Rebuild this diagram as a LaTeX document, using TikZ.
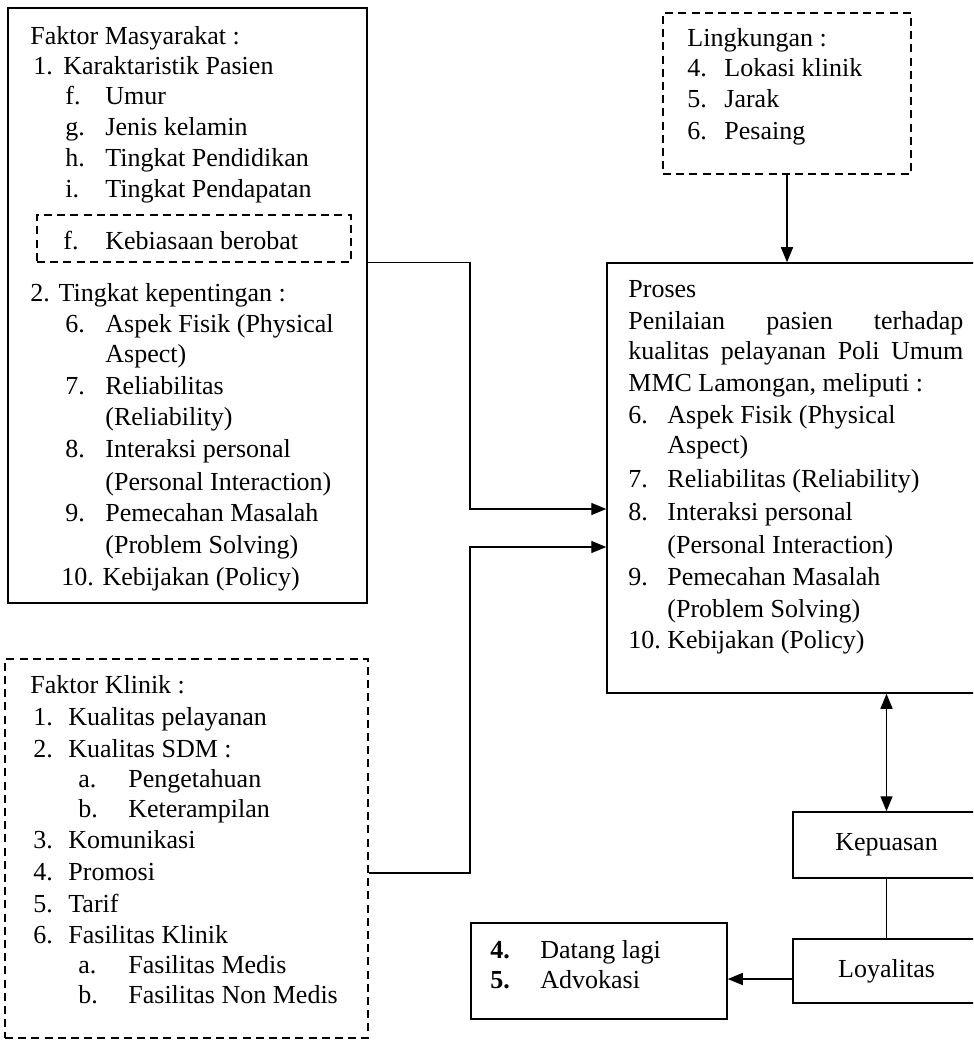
\documentclass[tikz,border=0pt]{standalone}
\usepackage{fontspec}
\setmainfont{Liberation Serif}
\usetikzlibrary{fit,arrows.meta}
\newcommand\lbl[2]{\makebox[#1pt][l]{#2}}
\begin{document}
\begin{tikzpicture}[x=0.5pt,y=-0.5pt,
  solidbox/.style={draw, line width=0.75pt, inner sep=0pt, rectangle},
  dashbox/.style={draw, line width=0.75pt, inner sep=0pt, rectangle, dash pattern=on 4pt off 2.6pt},
  t/.style={anchor=base west, inner sep=0pt, font=\fontsize{13}{15.5}\selectfont},
  ct/.style={inner sep=0pt, font=\fontsize{13}{15.5}\selectfont},
  conn/.style={line width=0.7pt},
  arr/.style={line width=0.7pt, -{Triangle[length=7.5pt,width=6pt]}},
  darr/.style={line width=0.7pt, {Triangle[length=7.5pt,width=6pt]}-{Triangle[length=7.5pt,width=6pt]}}]
\useasboundingbox (0,0) rectangle (973,1042);
\clip (0,0) rectangle (973,1042);

% boxes
\node[solidbox, fit={(8,8)(367,603)}] (mas) {};
\node[dashbox, fit={(37,215)(351,262)}] (keb) {};
\node[dashbox, fit={(5,659)(368,1038)}] (kli) {};
\node[dashbox, fit={(663,13)(911,174)}] (lin) {};
\node[solidbox, fit={(607,263)(1010,693)}] (pro) {};
\node[solidbox, fit={(793,812)(980,878)}] (kep) {};
\node[solidbox, fit={(793,939)(980,1003)}] (loy) {};
\node[solidbox, fit={(471,923)(727,1019)}] (dat) {};

% Faktor Masyarakat
\node[t] (m1) at (30,45) {Faktor Masyarakat :};
\node[t] (m2) at (33,75) {\lbl{15}{1.}Karaktaristik Pasien};
\node[t] (m3) at (65,105) {\lbl{20}{f.}Umur};
\node[t] (m4) at (65,136) {\lbl{20}{g.}Jenis kelamin};
\node[t] (m5) at (65,167) {\lbl{20}{h.}Tingkat Pendidikan};
\node[t] (m6) at (65,198) {\lbl{20}{i.}Tingkat Pendapatan};
\node[t] (m7) at (63,250) {\lbl{21}{f.}Kebiasaan berobat};
\node[t] (m8) at (30,302) {2. Tingkat kepentingan :};
\node[t] (m9) at (65,333) {\lbl{20}{6.}Aspek Fisik (Physical};
\node[t] (m10) at (105,363) {Aspect)};
\node[t] (m11) at (65,394) {\lbl{20}{7.}Reliabilitas};
\node[t] (m12) at (105,425) {(Reliability)};
\node[t] (m13) at (65,457) {\lbl{20}{8.}Interaksi personal};
\node[t] (m14) at (105,490) {(Personal Interaction)};
\node[t] (m15) at (65,521) {\lbl{20}{9.}Pemecahan Masalah};
\node[t] (m16) at (105,553) {(Problem Solving)};
\node[t] (m17) at (61,585) {10. Kebijakan (Policy)};

% Lingkungan
\node[t] (l1) at (687,47) {Lingkungan :};
\node[t] (l2) at (687,77) {\lbl{18.5}{4.}Lokasi klinik};
\node[t] (l3) at (687,108) {\lbl{18.5}{5.}Jarak};
\node[t] (l4) at (687,140) {\lbl{18.5}{6.}Pesaing};

% Proses
\node[t] (p1) at (628,298) {Proses};
\node[t] (p2) at (628,330) {\makebox[167.5pt][s]{Penilaian\hfill pasien\hfill terhadap}};
\node[t] (p3) at (628,360) {\makebox[167.5pt][s]{kualitas\hfill pelayanan\hfill Poli\hfill Umum}};
\node[t] (p4) at (628,392) {MMC Lamongan, meliputi :};
\node[t] (p5) at (628,423) {\lbl{19.5}{6.}Aspek Fisik (Physical};
\node[t] (p6) at (667,453) {Aspect)};
\node[t] (p7) at (628,487) {\lbl{19.5}{7.}Reliabilitas (Reliability)};
\node[t] (p8) at (628,520) {\lbl{19.5}{8.}Interaksi personal};
\node[t] (p9) at (667,553) {(Personal Interaction)};
\node[t] (p10) at (628,585) {\lbl{19.5}{9.}Pemecahan Masalah};
\node[t] (p11) at (667,617) {(Problem Solving)};
\node[t] (p12) at (628,648) {\lbl{19.5}{10.}Kebijakan (Policy)};

% Faktor Klinik
\node[t] (k1) at (30,693) {Faktor Klinik :};
\node[t] (k2) at (33,725) {\lbl{17.5}{1.}Kualitas pelayanan};
\node[t] (k3) at (33,757) {\lbl{17.5}{2.}Kualitas SDM :};
\node[t] (k4) at (78,787) {\lbl{25}{a.}Pengetahuan};
\node[t] (k5) at (78,817) {\lbl{25}{b.}Keterampilan};
\node[t] (k6) at (33,848) {\lbl{17.5}{3.}Komunikasi};
\node[t] (k7) at (33,880) {\lbl{17.5}{4.}Promosi};
\node[t] (k8) at (33,912) {\lbl{17.5}{5.}Tarif};
\node[t] (k9) at (33,943) {\lbl{17.5}{6.}Fasilitas Klinik};
\node[t] (k10) at (78,973) {\lbl{25}{a.}Fasilitas Medis};
\node[t] (k11) at (78,1003) {\lbl{25}{b.}Fasilitas Non Medis};

% Kepuasan, Loyalitas, Datang
\node[ct] (kept) at (kep.center) {Kepuasan};
\node[ct] (loyt) at (loy.center) {Loyalitas};
\node[t] (d1) at (490,958) {\lbl{25}{\textbf{4.}}Datang lagi};
\node[t] (d2) at (490,988) {\lbl{25}{\textbf{5.}}Advokasi};

% connectors
\coordinate (j1) at (470,509);
\coordinate (j2) at (470,547);
\draw[arr] (mas.east |- pro.north) -| (j1) -- (pro.west |- j1);
\draw[arr] ([yshift=-12.25pt]kli.east) -| (j2) -- (pro.west |- j2);
\draw[arr] (lin.south) -- (lin.south |- pro.north);
\draw[darr] (kep.north |- pro.south) -- (kep.north);
\draw[conn] (kep.south) -- (loy.north);
\draw[arr] ([yshift=-4pt]loy.west) -- ([yshift=-4pt]dat.east);
\end{tikzpicture}
\end{document}
